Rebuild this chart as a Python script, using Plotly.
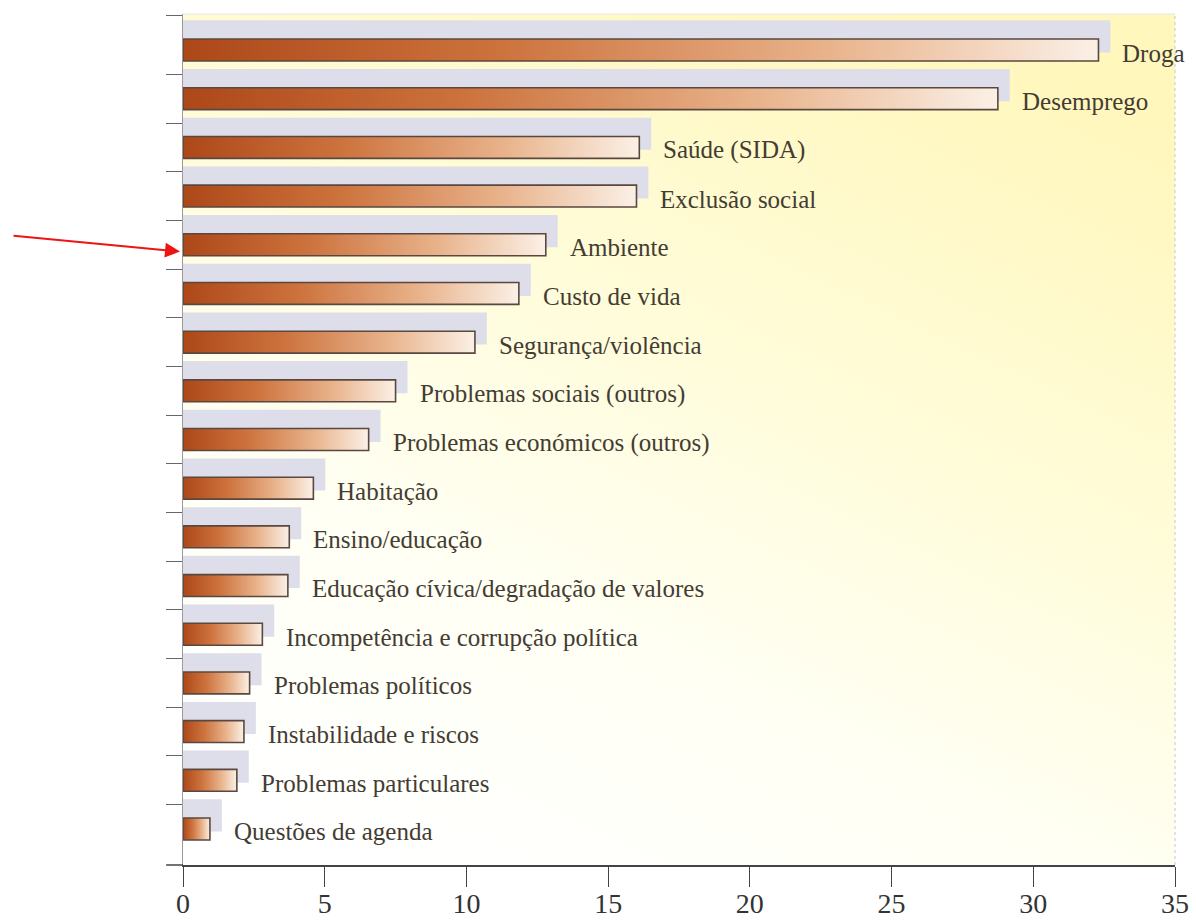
import base64
import plotly.graph_objects as go

categories = [
    "Droga", "Desemprego", "Saúde (SIDA)", "Exclusão social", "Ambiente",
    "Custo de vida", "Segurança/violência", "Problemas sociais (outros)",
    "Problemas económicos (outros)", "Habitação", "Ensino/educação",
    "Educação cívica/degradação de valores", "Incompetência e corrupção política",
    "Problemas políticos", "Instabilidade e riscos", "Problemas particulares",
    "Questões de agenda",
]
values = [32.3, 28.75, 16.1, 16.0, 12.8, 11.85, 10.3, 7.5, 6.55, 4.6, 3.75,
          3.7, 2.8, 2.35, 2.15, 1.9, 0.95]
x_ticks = [0, 5, 10, 15, 20, 25, 30, 35]
highlight = "Ambiente"

n = len(categories)
ypos = [n - 1 - i for i in range(n)]
y_lo, y_hi = -0.74, n - 0.26

SERIF = "Liberation Serif, Times New Roman, serif"
BAR_HALF = 0.225
SHADOW_EXTRA = 0.42
BAR_SCALE = [[0, "#ad4818"], [0.35, "#cd733e"], [0.7, "#e8b28a"], [1, "#fbf0e6"]]

fig = go.Figure()

# shadow bars (lavender, offset upward)
fig.add_trace(go.Bar(
    orientation="h", y=ypos, x=[v + SHADOW_EXTRA for v in values],
    width=0.66, offset=-0.05,
    marker=dict(color="#dedeea", line=dict(width=0)),
    hoverinfo="skip", showlegend=False,
))

# main gradient bars
for cat, v, y in zip(categories, values, ypos):
    fig.add_trace(go.Scatter(
        x=[0, v, v, 0, 0],
        y=[y - BAR_HALF, y - BAR_HALF, y + BAR_HALF, y + BAR_HALF, y - BAR_HALF],
        mode="lines", fill="toself",
        fillgradient=dict(type="horizontal", colorscale=BAR_SCALE, start=0, stop=v),
        line=dict(color="#5a4840", width=1.6),
        name=cat, hoverinfo="name", showlegend=False,
    ))
    fig.add_annotation(
        x=v, y=y, xref="x", yref="y", text=cat, showarrow=False,
        xanchor="left", yanchor="middle", xshift=22, yshift=-3,
        font=dict(family=SERIF, size=25, color="#443c33"),
    )

# red arrow pointing at highlighted category
hy = ypos[categories.index(highlight)] - 0.14
fig.add_annotation(
    x=-0.003, y=(hy - y_lo) / (y_hi - y_lo), xref="paper", yref="paper",
    text="", showarrow=True,
    ax=-168, ay=-16, arrowcolor="#ee1414", arrowwidth=2, arrowhead=2,
    arrowsize=1.5, standoff=0,
)

# background gradient
svg = (
    '<svg xmlns="http://www.w3.org/2000/svg" width="1000" height="860" '
    'preserveAspectRatio="none" viewBox="0 0 1000 860">'
    '<defs><linearGradient id="g" x1="0.2" y1="1" x2="0.75" y2="0">'
    '<stop offset="0" stop-color="#ffffff"/>'
    '<stop offset="0.3" stop-color="#fffff4"/>'
    '<stop offset="0.6" stop-color="#fffcda"/>'
    '<stop offset="1" stop-color="#fff7bc"/>'
    '</linearGradient></defs>'
    '<rect width="1000" height="860" fill="url(#g)"/></svg>'
)
src = "data:image/svg+xml;base64," + base64.b64encode(svg.encode()).decode()
fig.add_layout_image(dict(
    source=src, xref="paper", yref="paper", x=0, y=1, sizex=1, sizey=1,
    sizing="stretch", layer="below", xanchor="left", yanchor="top",
))

# right dotted border, top edge, and left extension of x axis
fig.add_shape(type="line", xref="paper", yref="paper", x0=1, x1=1, y0=0, y1=1,
              line=dict(color="#c8c8c8", width=1, dash="dot"), layer="below")
fig.add_shape(type="line", xref="paper", yref="paper", x0=0, x1=1, y0=1, y1=1,
              line=dict(color="#e6e6e6", width=1), layer="below")
fig.add_shape(type="line", xref="paper", yref="paper", x0=-0.017, x1=0, y0=0, y1=0,
              line=dict(color="#444", width=1.5))

y_tickvals = [k + 0.5 for k in range(n - 1)] + [n - 0.3]

fig.update_layout(
    width=1196, height=923,
    margin=dict(l=183, r=21, t=14, b=58, autoexpand=False),
    paper_bgcolor="white", plot_bgcolor="rgba(0,0,0,0)",
    barmode="overlay", showlegend=False,
    xaxis=dict(
        range=[0, 35], tickvals=x_ticks, ticks="outside", ticklen=20,
        tickwidth=1.2, tickcolor="#444", showline=True, linecolor="#444",
        linewidth=1.5, showgrid=False, zeroline=False, automargin=False,
        ticklabelstandoff=-7,
        tickfont=dict(family=SERIF, size=28, color="#333"),
    ),
    yaxis=dict(
        range=[y_lo, y_hi], tickvals=y_tickvals, ticktext=[""] * len(y_tickvals),
        ticks="outside", ticklen=16, tickcolor="#666", tickwidth=1.2,
        showline=True, linecolor="#9a9a9a", linewidth=1.2,
        showgrid=False, zeroline=False, automargin=False,
    ),
)

fig.write_html(
    "out.html",
    config={"displayModeBar": False},
    post_script="document.body.style.margin='0';document.body.style.padding='0';",
)
